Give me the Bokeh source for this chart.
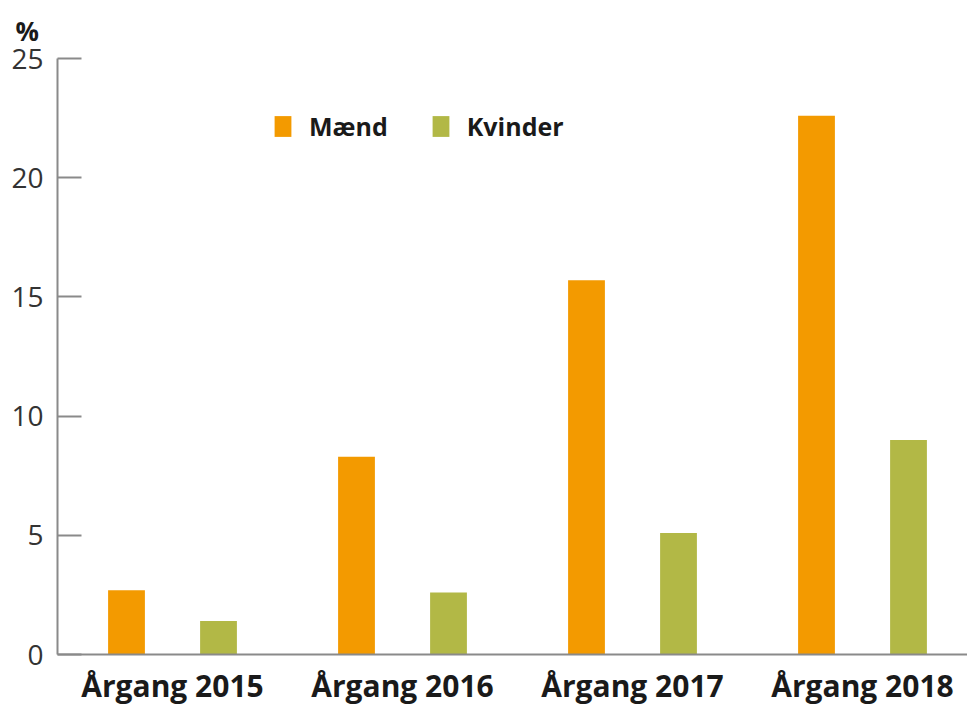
import numpy as np
from bokeh.plotting import figure
from bokeh.models import ColumnDataSource, Range1d, FixedTicker, Legend, LegendItem, Title
from bokeh.embed import file_html
from bokeh.resources import INLINE

categories = ["Årgang 2015", "Årgang 2016", "Årgang 2017", "Årgang 2018"]
maend = [2.7, 8.3, 15.7, 22.6]
kvinder = [1.4, 2.6, 5.1, 9.0]
y_ticks = [0, 5, 10, 15, 20, 25]

ORANGE = "#F39A00"
GREEN = "#B2B846"
FONT = "Open Sans"

xc = np.arange(len(categories)) + 0.5
src = ColumnDataSource(dict(x_m=xc - 0.2, x_k=xc + 0.2, m=maend, k=kvinder))

p = figure(frame_width=910, frame_height=596, output_backend="svg", toolbar_location=None,
           x_range=Range1d(0, 910 / 230), y_range=Range1d(0, 25),
           min_border_left=57, min_border_top=58, min_border_right=0, min_border_bottom=0)
p.outline_line_color = None
p.xgrid.visible = False
p.ygrid.visible = False

r_m = p.vbar(x="x_m", top="m", width=0.16, source=src, fill_color=ORANGE, line_color=None)
r_k = p.vbar(x="x_k", top="k", width=0.16, source=src, fill_color=GREEN, line_color=None)

AX = "#8a8a8a"
p.xaxis.ticker = FixedTicker(ticks=list(xc))
p.xaxis.major_label_overrides = {float(v): c for v, c in zip(xc, categories)}
p.xaxis.axis_line_color = AX
p.xaxis.axis_line_width = 2
p.xaxis.major_tick_line_color = None
p.xaxis.minor_tick_line_color = None
p.xaxis.major_label_text_font = FONT
p.xaxis.major_label_text_font_style = "bold"
p.xaxis.major_label_text_font_size = "30px"
p.xaxis.major_label_text_color = "#1a1a1a"
p.xaxis.major_label_standoff = 4

p.yaxis.ticker = FixedTicker(ticks=y_ticks)
p.yaxis.axis_line_color = AX
p.yaxis.axis_line_width = 2
p.yaxis.major_tick_line_color = AX
p.yaxis.major_tick_line_width = 2
p.yaxis.major_tick_in = 24
p.yaxis.major_tick_out = 0
p.yaxis.minor_tick_line_color = None
p.yaxis.major_label_text_font = FONT
p.yaxis.major_label_text_font_size = "28px"
p.yaxis.major_label_text_color = "#333333"
p.yaxis.major_label_standoff = 14

pct = Title(text="%", align="left", offset=-42, standoff=20,
            text_font=FONT, text_font_size="26px", text_font_style="bold",
            text_color="#1a1a1a")
p.add_layout(pct, "above")

legend = Legend(items=[LegendItem(label="Mænd", renderers=[r_m]),
                       LegendItem(label="Kvinder", renderers=[r_k])],
                orientation="horizontal", location=(215, 511),
                glyph_width=21, glyph_height=26, label_standoff=16, spacing=42,
                padding=0, margin=0, border_line_color=None, background_fill_alpha=0,
                label_text_font=FONT, label_text_font_size="25px",
                label_text_font_style="bold", label_text_color="#1a1a1a")
p.add_layout(legend, "center")

open("out.html", "w").write(file_html(p, INLINE))
